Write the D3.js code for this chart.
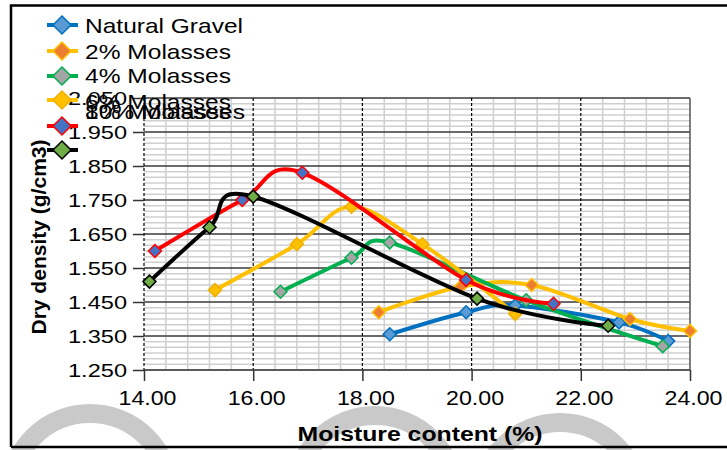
<!DOCTYPE html>
<html><head><meta charset="utf-8">
<script src="https://cdn.jsdelivr.net/npm/d3@7"></script>
<style>body{margin:0;background:#fff}svg{display:block}text{font-family:"Liberation Sans",Arial,sans-serif;fill:#000}</style>
</head><body><svg id="c" width="727" height="450"></svg>
<script>
const seriesNames = ["Natural Gravel","2% Molasses","4% Molasses","6% Molasses","8% Molasses","10% Molasses"];
const moistureNG = [18.5,19.9,20.8,22.7,23.6];
const densityNG  = [1.355,1.42,1.44,1.39,1.335];
const moisture2  = [18.3,19.8,21.1,22.9,24.0];
const density2   = [1.42,1.495,1.50,1.40,1.365];
const moisture4  = [16.5,17.8,18.5,21.0,23.5];
const density4   = [1.48,1.58,1.625,1.455,1.32];
const moisture6  = [15.3,16.8,17.8,19.1,20.8];
const density6   = [1.485,1.62,1.73,1.62,1.415];
const moisture8  = [14.2,15.8,16.9,19.9,21.5];
const density8   = [1.60,1.75,1.83,1.515,1.445];
const moisture10 = [14.1,15.2,16.0,20.1,22.5];
const density10  = [1.51,1.67,1.76,1.46,1.38];
const xTickValues = [14,16,18,20,22,24];
const yTickValues = [1.25,1.35,1.45,1.55,1.65,1.75,1.85,1.95,2.05];
const xTitle = "Moisture content (%)";
const yTitle = "Dry density (g/cm3)";

const lineColors   = ["#0070C0","#FFC000","#00B050","#FFC000","#FF0000","#000000"];
const markerFills  = ["#5B9BD5","#ED7D31","#A5A5A5","#FFC000","#4472C4","#70AD47"];
const markerStroke = ["#0070C0","#FFC000","#00B050","#F0B000","#FF0000","#000000"];

const allX = [moistureNG,moisture2,moisture4,moisture6,moisture8,moisture10];
const allY = [densityNG,density2,density4,density6,density8,density10];
const series = seriesNames.map((n,i)=>({name:n, pts: allX[i].map((x,j)=>({x, y: allY[i][j]}))}));

const svg = d3.select("#c");
const x = d3.scaleLinear().domain([14,24]).range([144,690]);
const y = d3.scaleLinear().domain([1.25,2.05]).range([370,98]);

// watermark arcs
[[90,493.5],[375,495.5],[560,502.5]].forEach(c=>{
  svg.append("circle").attr("cx",c[0]).attr("cy",c[1]).attr("r",80)
    .attr("fill","none").attr("stroke","#c9c9c9").attr("stroke-width",19);
});

// outer frame
svg.append("path").attr("d","M11,447 L11,5.5 L727,5.5").attr("fill","none").attr("stroke","#000").attr("stroke-width",2.5);
svg.append("line").attr("x1",11).attr("x2",727).attr("y1",447).attr("y2",447).attr("stroke","#000").attr("stroke-width",2.5);

const g = svg.append("g");
// minor grid
const minorX = d3.range(0,26).map(i=>14+i*0.4).filter(v=>Math.abs(v/2-Math.round(v/2))>1e-6);
const minorY = d3.range(0,49).map(i=>1.25+i*0.1/6).filter((v,i)=>i%6!==0);
g.selectAll(".mx").data(minorX).join("line").attr("x1",d=>x(d)).attr("x2",d=>x(d)).attr("y1",98).attr("y2",370)
  .attr("stroke","#cfcfcf").attr("stroke-width",1.5);
g.selectAll(".my").data(minorY).join("line").attr("y1",d=>y(d)).attr("y2",d=>y(d)).attr("x1",144).attr("x2",690)
  .attr("stroke","#cfcfcf").attr("stroke-width",1.5);
// major horizontal
g.selectAll(".hy").data(yTickValues).join("line").attr("y1",d=>y(d)).attr("y2",d=>y(d)).attr("x1",144).attr("x2",690)
  .attr("stroke","#3a3a3a").attr("stroke-width",1.5);
// major vertical dashed
g.selectAll(".vx").data(xTickValues.slice(0,-1)).join("line").attr("x1",d=>x(d)).attr("x2",d=>x(d)).attr("y1",98).attr("y2",370)
  .attr("stroke","#000").attr("stroke-width",1.2).attr("stroke-dasharray","3,2");
g.append("line").attr("x1",690).attr("x2",690).attr("y1",98).attr("y2",370).attr("stroke","#555").attr("stroke-width",1.5);

// axes
const yAxis = svg.append("g").attr("transform","translate(144,0)")
  .call(d3.axisLeft(y).tickValues(yTickValues).tickSize(11).tickFormat(d3.format(".3f")));
yAxis.select(".domain").remove();
yAxis.selectAll(".tick line").attr("stroke","#333").attr("stroke-width",1.5);
yAxis.selectAll(".tick text").attr("x",-17).attr("dy",null).attr("y",6.6)
  .attr("font-size",18.5).attr("font-family","Liberation Sans, Arial, sans-serif")
  .attr("textLength",59).attr("lengthAdjust","spacingAndGlyphs").attr("fill","#000");

const xAxis = svg.append("g").attr("transform","translate(0,370)")
  .call(d3.axisBottom(x).tickValues(xTickValues).tickSize(11).tickFormat(d3.format(".2f")));
xAxis.select(".domain").attr("stroke","#555").attr("stroke-width",1.5).attr("d","M144,0H690");
xAxis.selectAll(".tick line").attr("stroke","#333").attr("stroke-width",1.5);
xAxis.selectAll(".tick text").attr("dy",null).attr("y",35).attr("x",3)
  .attr("font-size",21).attr("font-family","Liberation Sans, Arial, sans-serif")
  .attr("textLength",58).attr("lengthAdjust","spacingAndGlyphs").attr("fill","#000");

// titles
svg.append("text").attr("x",420).attr("y",441).attr("text-anchor","middle")
  .attr("font-size",21).attr("font-weight","bold").attr("textLength",245).attr("lengthAdjust","spacingAndGlyphs").text(xTitle);
svg.append("text").attr("transform","translate(46,237) rotate(-90)").attr("text-anchor","middle")
  .attr("font-size",21).attr("font-weight","bold").attr("textLength",195).attr("lengthAdjust","spacingAndGlyphs").text(yTitle);

// series
const line = d3.line().x(d=>x(d.x)).y(d=>y(d.y)).curve(d3.curveCardinal.tension(0));
const diamond = (cx,cy,r)=>`M${cx},${cy-r}L${cx+r},${cy}L${cx},${cy+r}L${cx-r},${cy}Z`;
series.forEach((s,i)=>{
  const sg = svg.append("g");
  sg.append("path").attr("d",line(s.pts)).attr("fill","none").attr("stroke",lineColors[i])
    .attr("stroke-width",4).attr("stroke-linejoin","round").attr("stroke-linecap","round");
  sg.selectAll("path.m").data(s.pts).join("path").attr("class","m")
    .attr("d",d=>diamond(x(d.x),y(d.y),6.5)).attr("fill",markerFills[i]).attr("stroke",markerStroke[i]).attr("stroke-width",1.5);
});

// legend
const legMarkY = [25,51,76,100,126,150];
const legTextY = [33.3,59.3,82.7,109,119,119];
const legTextW = [158,146,146,146,146,160];
const leg = svg.append("g");
series.forEach((s,i)=>{
  leg.append("line").attr("x1",47).attr("x2",78).attr("y1",legMarkY[i]).attr("y2",legMarkY[i])
    .attr("stroke",lineColors[i]).attr("stroke-width",4);
  leg.append("path").attr("d",diamond(62,legMarkY[i],9)).attr("fill",markerFills[i]).attr("stroke",markerStroke[i]).attr("stroke-width",1.5);
  leg.append("text").attr("x",85).attr("y",legTextY[i]).attr("font-size",21)
    .attr("textLength",legTextW[i]).attr("lengthAdjust","spacingAndGlyphs").text(s.name);
});
</script></body></html>
